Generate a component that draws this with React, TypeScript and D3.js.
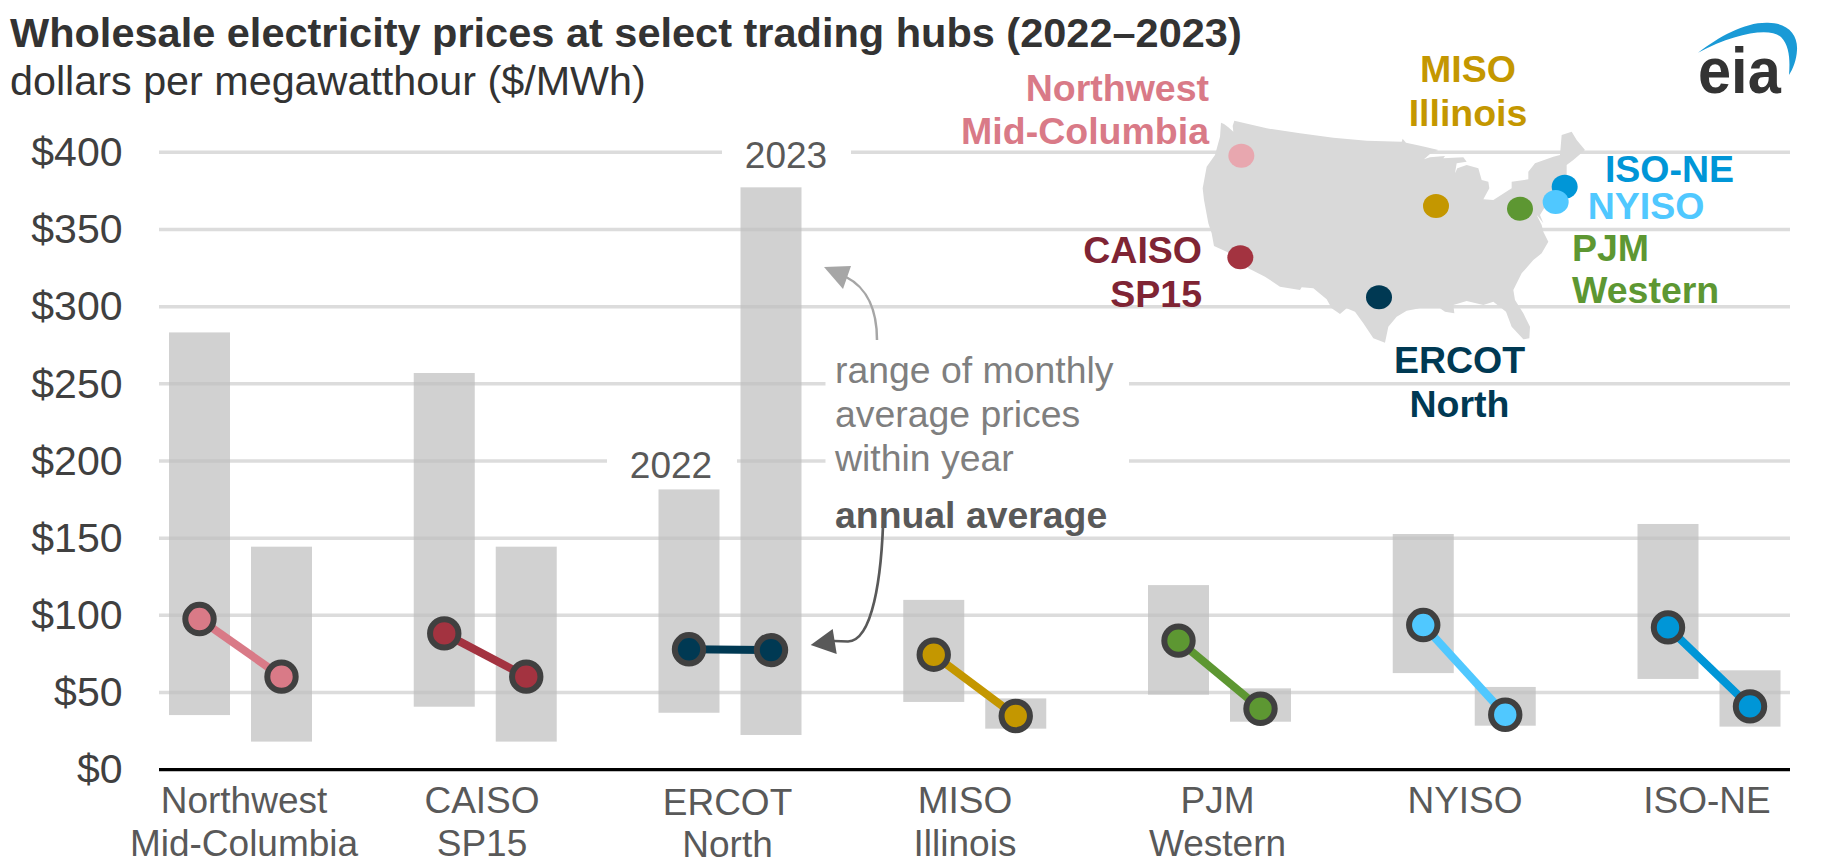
import React from "react";
import * as d3 from "d3";

const hubs = ["Northwest Mid-Columbia", "CAISO SP15", "ERCOT North", "MISO Illinois", "PJM Western", "NYISO", "ISO-NE"];
const low2022 = [35.4, 40.8, 36.9, 43.9, 48.6, 62.6, 58.8];
const high2022 = [283.3, 257, 181.6, 110, 119.6, 152.7, 159.2];
const low2023 = [18.2, 18.2, 22.5, 26.6, 31.1, 28.5, 27.9];
const high2023 = [144.5, 144.5, 377.3, 46.2, 52.7, 53.6, 64.4];
const avg2022 = [97.6, 88.3, 78, 74.5, 83.6, 93.7, 92.2];
const avg2023 = [60.3, 60.3, 77.5, 34.8, 39.5, 35.6, 41];
const hubColors = ["#d97a87", "#a33340", "#003953", "#c49700", "#5d9732", "#50c8ff", "#0096d7"];
const yTicks = [0, 50, 100, 150, 200, 250, 300, 350, 400];

const axisLabels: [string[], number, number, number][] = [
  [["Northwest", "Mid-Columbia"], 244, 813, 43],
  [["CAISO", "SP15"], 482, 813, 43],
  [["ERCOT", "North"], 727.5, 815, 42],
  [["MISO", "Illinois"], 965, 813, 43],
  [["PJM", "Western"], 1217.5, 813, 43],
  [["NYISO"], 1465, 813, 43],
  [["ISO-NE"], 1707, 813, 43],
];

// outline of the lower-48 map, in map units
const usOutline: [number, number][] = [
  [63,68],[72,72],[85,82],[100,95],[98,78],[103,62],[200,85],[300,100],[400,113],[500,122],[605,125],[608,116],[618,128],[650,135],[680,142],[715,150],
  [690,162],[672,178],[690,172],[735,168],[730,175],[790,172],[800,185],[770,190],[765,220],[772,205],[800,195],[835,205],[845,240],[865,245],[868,265],[850,298],
  [880,300],[935,265],[935,245],[985,238],[985,215],[1005,190],[1060,170],[1080,165],[1085,105],[1115,95],[1130,120],[1155,150],[1120,180],[1100,195],[1100,225],
  [1095,260],[1060,290],[1035,320],[1020,345],[1030,370],[1015,350],[1010,345],[1025,375],[1030,395],[1045,425],[1025,460],[1000,480],[965,520],[940,570],[945,600],
  [970,640],[990,680],[988,715],[970,718],[935,680],[918,635],[880,605],[850,615],[800,603],[760,615],[763,640],[735,635],[720,625],[660,625],[620,632],[590,650],
  [565,680],[555,728],[520,715],[490,670],[465,635],[440,625],[420,642],[395,625],[380,598],[340,565],[305,562],[300,570],[240,560],[195,530],[145,505],[135,485],
  [80,455],[42,438],[35,400],[25,370],[12,300],[8,265],[20,200],[45,165],[60,110],
];
const mapDots: [number, number, string][] = [
  [124,167,"#e8a7af"],[121,472,"#a33340"],[537,592,"#003953"],[708,318,"#c49700"],[960,326,"#5d9732"],[1094,260,"#0096d7"],[1067,306,"#50c8ff"],
];

const mapLabels: [string, number, number, string, "start" | "middle" | "end"][] = [
  ["Northwest", 1209, 101, "#d97a87", "end"],
  ["Mid-Columbia", 1209, 144.3, "#d97a87", "end"],
  ["CAISO", 1202, 263, "#7f2434", "end"],
  ["SP15", 1202, 307, "#7f2434", "end"],
  ["MISO", 1468, 82, "#c49700", "middle"],
  ["Illinois", 1468, 125.7, "#c49700", "middle"],
  ["ISO-NE", 1669.5, 182, "#0096d7", "middle"],
  ["NYISO", 1646, 219, "#50c8ff", "middle"],
  ["PJM", 1572, 260.7, "#5d9732", "start"],
  ["Western", 1572, 303, "#5d9732", "start"],
  ["ERCOT", 1459.5, 373, "#003953", "middle"],
  ["North", 1459.5, 416.7, "#003953", "middle"],
];

const FONT = "'Liberation Sans', Arial, sans-serif";

function T({ x, y, s, fs, sx = 1, fill, weight, anchor = "start" }: any) {
  return (
    <text transform={`translate(${x},${y}) scale(${sx},1)`} fontSize={fs} fill={fill} fontWeight={weight} textAnchor={anchor} fontFamily={FONT}>
      {s}
    </text>
  );
}

export default function App() {
  const y = d3.scaleLinear().domain([0, 400]).range([769.7, 152.3]);
  const x = d3.scalePoint<string>().domain(hubs).range([240.5, 1709]);
  const year = d3.scaleBand<string>().domain(["2022", "2023"]).range([-71.5, 71.5]).paddingInner(0.256);
  const bw = year.bandwidth();
  const cx = (h: string, yr: string) => (x(h) as number) + (year(yr) as number) + bw / 2;
  const mx = d3.scaleLinear().domain([0, 1260]).range([1200, 1620]);
  const my = d3.scaleLinear().domain([0, 840]).range([100, 380]);
  const mapPath = d3.line<[number, number]>().x((d) => mx(d[0])).y((d) => my(d[1])).curve(d3.curveLinearClosed)(usOutline) as string;
  const fmt = d3.format("$");
  const ranges = [
    { yr: "2022", low: low2022, high: high2022 },
    { yr: "2023", low: low2023, high: high2023 },
  ];

  return (
    <svg width={1837} height={865} style={{ position: "fixed", left: 0, top: 0, background: "#fff" }}>
      {yTicks.filter((t) => t > 0).map((t) => (
        <line key={t} x1={159} x2={1790} y1={y(t)} y2={y(t)} stroke="#dcdcdc" strokeWidth={3.5} />
      ))}
      {/* gaps in the gridlines behind annotations */}
      <rect x={722} y={140} width={129} height={30} fill="#fff" />
      <rect x={607} y={448} width={130} height={30} fill="#fff" />
      <rect x={825.5} y={372} width={303.5} height={100} fill="#fff" />

      {ranges.map((r) =>
        hubs.map((h, i) => (
          <rect key={r.yr + h} x={cx(h, r.yr) - bw / 2} width={bw} y={y(r.high[i])} height={y(r.low[i]) - y(r.high[i])} fill="#bdbdbd" fillOpacity={0.7} />
        ))
      )}
      <line x1={159} x2={1790} y1={y(0)} y2={y(0)} stroke="#000" strokeWidth={3.3} />

      {hubs.map((h, i) => (
        <g key={h}>
          <line x1={cx(h, "2022")} x2={cx(h, "2023")} y1={y(avg2022[i])} y2={y(avg2023[i])} stroke={hubColors[i]} strokeWidth={8} />
          <circle cx={cx(h, "2022")} cy={y(avg2022[i])} r={14.2} fill={hubColors[i]} stroke="#404040" strokeWidth={6} />
          <circle cx={cx(h, "2023")} cy={y(avg2023[i])} r={14.2} fill={hubColors[i]} stroke="#404040" strokeWidth={6} />
        </g>
      ))}

      {yTicks.map((t) => (
        <T key={t} x={122.5} y={y(t) + 13.7} s={fmt(t)} fs={41} fill="#404040" anchor="end" />
      ))}
      {axisLabels.map(([lines, lx, ly, gap]) =>
        lines.map((s, i) => <T key={s} x={lx} y={ly + i * gap} s={s} fs={37} fill="#595959" anchor="middle" />)
      )}

      <T x={10} y={46.7} s="Wholesale electricity prices at select trading hubs (2022–2023)" fs={41.5} fill="#333333" weight="bold" />
      <T x={10} y={95} s="dollars per megawatthour ($/MWh)" fs={41.3} fill="#333333" />

      <T x={786} y={168} s="2023" fs={37} fill="#595959" anchor="middle" />
      <T x={671} y={478} s="2022" fs={37} fill="#595959" anchor="middle" />

      <T x={835} y={383} s="range of monthly" fs={37.4} fill="#7f7f7f" />
      <T x={835} y={427} s="average prices" fs={37.4} fill="#7f7f7f" />
      <T x={835} y={471} s="within year" fs={37.4} fill="#7f7f7f" />
      <T x={835} y={528} s="annual average" fs={37.4} fill="#595959" weight="bold" />

      <path d="M877,340 C877,312 868,288 846,277" fill="none" stroke="#a6a6a6" strokeWidth={2.5} />
      <path d="M824,267 L851,266 L843,289 Z" fill="#a6a6a6" />
      <path d="M883.5,510 C882,580 872,641 848,641.5 L834,641" fill="none" stroke="#595959" strokeWidth={2.7} />
      <path d="M810.7,645 L832.7,629 L836.7,654 Z" fill="#595959" />

      <path d={mapPath} fill="#d9d9d9" />
      {mapDots.map(([a, b, c]) => (
        <ellipse key={c} cx={mx(a)} cy={my(b)} rx={13} ry={12} fill={c} />
      ))}
      {mapLabels.map(([s, lx, ly, c, a]) => (
        <T key={s + ly} x={lx} y={ly} s={s} fs={37.5} fill={c} weight="bold" anchor={a} />
      ))}

      <path d="M698,52.7" fill="none" />
      <path d="M1698,52.7 C1720,36 1745,22 1768,22.7 C1787,23 1798,34 1797,50 C1796.5,60 1793,69 1789,75 C1790,62 1790,46 1781,37 C1770,27 1735,33 1698,52.7 Z" fill="#1a9ad6" />
      <T x={1698} y={93.3} s="eia" fs={64} sx={0.93} fill="#333333" weight="bold" />
    </svg>
  );
}
